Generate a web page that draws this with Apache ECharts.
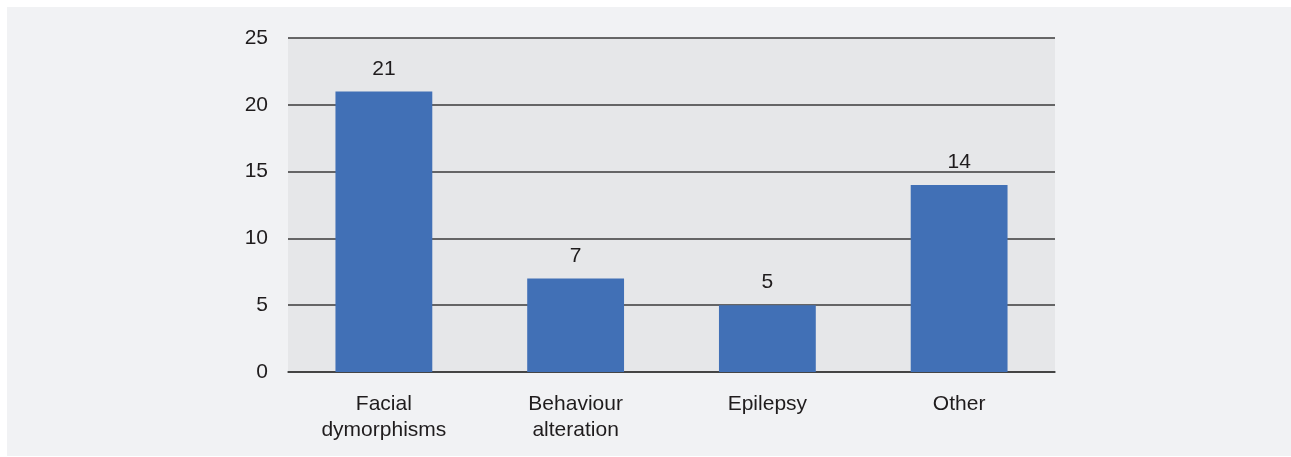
<!DOCTYPE html>
<html>
<head>
<meta charset="utf-8">
<script src="https://cdn.jsdelivr.net/npm/echarts@6/dist/echarts.min.js"></script>
<style>
html,body{margin:0;padding:0;background:#ffffff;}
#chart{width:1291px;height:457px;}
</style>
</head>
<body>
<div id="chart"></div>
<script>
const categories = ['Facial\ndymorphisms', 'Behaviour\nalteration', 'Epilepsy', 'Other'];
const values = [21, 7, 5, 14];
const yTicks = [0, 5, 10, 15, 20, 25];

const chart = echarts.init(document.getElementById('chart'), null, {renderer: 'canvas'});
chart.setOption({
  backgroundColor: '#ffffff',
  animation: false,
  graphic: [{
    type: 'rect',
    z: -10,
    silent: true,
    shape: {x: 7, y: 7, width: 1284, height: 449},
    style: {fill: '#f1f2f4'}
  }],
  grid: {
    left: 288, right: 236, top: 38, bottom: 85,
    show: true, backgroundColor: '#e6e7e9', borderWidth: 0
  },
  xAxis: {
    type: 'category',
    data: categories,
    axisLine: {show: true, lineStyle: {color: '#3a3a3a', width: 1.5}},
    axisTick: {show: false},
    axisLabel: {
      color: '#1f1c1d', fontSize: 21, fontFamily: 'Liberation Sans, Arial, sans-serif',
      margin: 19, lineHeight: 26, interval: 0
    }
  },
  yAxis: {
    type: 'value',
    min: yTicks[0], max: yTicks[yTicks.length - 1], interval: 5,
    axisLine: {show: false},
    axisTick: {show: false},
    splitLine: {show: true, lineStyle: {color: '#3a3a3a', width: 1.5}},
    axisLabel: {
      color: '#1f1c1d', fontSize: 21, fontFamily: 'Liberation Sans, Arial, sans-serif',
      margin: 20
    }
  },
  series: [{
    type: 'bar',
    data: values,
    barWidth: '50.5%',
    itemStyle: {color: '#4170b6'},
    label: {
      show: true, position: 'top', distance: 12,
      color: '#1f1c1d', fontSize: 21, fontFamily: 'Liberation Sans, Arial, sans-serif'
    },
    z: 3
  }]
});
</script>
</body>
</html>
